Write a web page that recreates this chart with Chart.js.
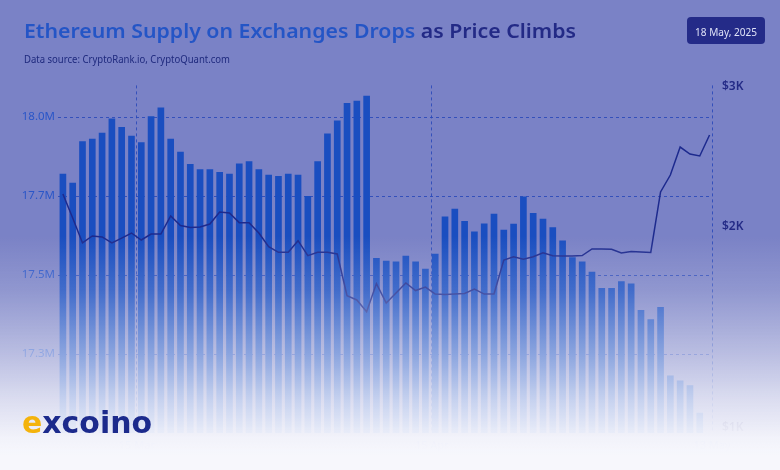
<!DOCTYPE html>
<html>
<head>
<meta charset="utf-8">
<script src="https://cdn.jsdelivr.net/npm/chart.js@4.4.1/dist/chart.umd.min.js"></script>
<style>
  html,body{margin:0;padding:0;}
  body{width:780px;height:470px;position:relative;overflow:hidden;background:#7a82c6;font-family:'Noto Sans',sans-serif;}
  #wrap{position:absolute;left:0;top:0;width:780px;height:470px;}
  #fade{position:absolute;left:0;top:0;width:780px;height:470px;pointer-events:none;
    background:linear-gradient(to bottom, rgba(247,247,252,0) 0px, rgba(247,247,252,0) 235px, rgba(247,247,252,0.18) 290px, rgba(247,247,252,0.5) 352px, rgba(247,247,252,0.78) 400px, rgba(247,247,252,0.96) 438px, rgba(247,247,252,1) 455px, rgba(247,247,252,1) 470px);}
  .fit{position:absolute;white-space:nowrap;transform-origin:0 0;}
  #title{left:24px;top:20.5px;font:600 20px/20px 'Noto Sans';}
  #title .b{color:#2455c6;} #title .n{color:#232a86;}
  #sub{left:24px;top:53px;font:400 11px/11px 'Noto Sans';color:#1f2a7e;}
  #badge{position:absolute;left:687px;top:17px;width:78px;height:27px;border-radius:4px;background:#242b88;}
  #badgeText{font:400 11px/11px 'Noto Sans';color:#dfe2f7;top:25.5px;left:695px;}
  #logo{position:absolute;left:22px;top:408px;font:700 30px/30px 'DejaVu Sans';white-space:nowrap;transform-origin:0 0;}
  #logo .e{color:#f4b30c;} #logo .r{color:#1c2a8c;}
</style>
</head>
<body>
<div id="wrap"><canvas id="c" width="780" height="470"></canvas></div>
<div id="fade"></div>
<div id="title" class="fit" data-w="552"><span class="b">Ethereum Supply on Exchanges Drops</span> <span class="n">as Price Climbs</span></div>
<div id="sub" class="fit" data-w="206">Data source: CryptoRank.io, CryptoQuant.com</div>
<div id="badge"></div>
<div id="badgeText" class="fit" data-w="62">18 May, 2025</div>
<div id="logo" data-w="130"><span class="e">e</span><span class="r">xcoino</span></div>
<script>
// ---- data ----
const supplyM = [17.819, 17.791, 17.922, 17.930, 17.949, 17.994, 17.967, 17.940, 17.919, 18.001,
  18.029, 17.930, 17.889, 17.850, 17.834, 17.834, 17.825, 17.819, 17.852, 17.859,
  17.834, 17.816, 17.812, 17.819, 17.816, 17.749, 17.859, 17.947, 17.988, 18.043,
  18.050, 18.066, 17.553, 17.544, 17.542, 17.560, 17.542, 17.519, 17.566, 17.684,
  17.709, 17.670, 17.637, 17.662, 17.693, 17.642, 17.661, 17.747, 17.695, 17.677,
  17.650, 17.608, 17.555, 17.542, 17.509, 17.458, 17.458, 17.479, 17.472, 17.388,
  17.359, 17.398, 17.181, 17.165, 17.150, 17.063];
const ethPrice = [2236, 2064, 1886, 1936, 1929, 1886, 1921, 1957, 1907, 1950,
  1950, 2079, 2011, 1996, 2000, 2021, 2107, 2100, 2031, 2031,
  1957, 1859, 1819, 1819, 1902, 1795, 1819, 1819, 1807, 1509,
  1479, 1395, 1596, 1457, 1529, 1600, 1546, 1571, 1521, 1518,
  1521, 1525, 1557, 1521, 1521, 1764, 1788, 1769, 1788, 1816,
  1795, 1793, 1793, 1796, 1843, 1843, 1841, 1814, 1825, 1821,
  1818, 2250, 2371, 2571, 2521, 2507, 2657];
const supplyTickValues = [18.0, 17.75, 17.5, 17.25];
const supplyTickLabels = ['18.0M', '17.7M', '17.5M', '17.3M'];
const priceTickValues = [3000, 2000, 570];
const priceTickLabels = ['$3K', '$2K', '$1K'];
const dateTickValues = [7.55, 37.65, 66.25];
const dateTickLabels = ['15 Mar', '15 Apr', '13 May'];

// fit text widths
document.querySelectorAll('[data-w]').forEach(el => {
  const w = el.getBoundingClientRect().width;
  const t = parseFloat(el.dataset.w);
  el.style.transform = 'scaleX(' + (t / w) + ')';
});

const gridColor = 'rgba(40,72,185,0.85)';
const setTicks = (vals) => (scale) => { scale.ticks = vals.map(v => ({ value: v })); };

new Chart(document.getElementById('c'), {
  data: {
    datasets: [
      {
        type: 'line',
        data: ethPrice.map((v, i) => ({ x: i, y: v })),
        yAxisID: 'yp',
        borderColor: '#1d2a8e',
        borderWidth: 1.5,
        pointRadius: 0,
        tension: 0,
        order: 0
      },
      {
        type: 'bar',
        data: supplyM.map((v, i) => ({ x: i, y: v })),
        yAxisID: 'ys',
        backgroundColor: '#1a4ec0',
        barThickness: 6,
        order: 1
      }
    ]
  },
  options: {
    responsive: false,
    animation: false,
    layout: { padding: { top: 85.4, bottom: 0, left: 0, right: 0 } },
    plugins: { legend: { display: false }, tooltip: { enabled: false } },
    scales: {
      x: {
        type: 'linear', min: -0.5, max: 66.25, offset: false,
        afterBuildTicks: setTicks(dateTickValues),
        afterFit: (s) => { s.height = 37; },
        grid: { color: gridColor, lineWidth: 1, drawTicks: false, offset: false },
        border: { display: false, dash: [3, 3] },
        ticks: { padding: 6, autoSkip: false, maxRotation: 0, color: '#2a56c8',
          font: { family: 'Noto Sans', size: 11 },
          callback: (v, i) => dateTickLabels[i] }
      },
      ys: {
        type: 'linear', position: 'left', min: 17.0, max: 18.1,
        afterBuildTicks: setTicks(supplyTickValues),
        afterFit: (s) => { s.width = 58; },
        grid: { color: gridColor, lineWidth: 1, drawTicks: false },
        border: { display: false, dash: [3, 3] },
        ticks: { padding: 3, color: '#2a56c8', font: { family: 'Noto Sans', size: 11.5 },
          callback: (v, i) => supplyTickLabels[i] }
      },
      yp: {
        type: 'linear', position: 'right', min: 529, max: 3011,
        afterBuildTicks: setTicks(priceTickValues),
        afterFit: (s) => { s.width = 68; },
        grid: { display: false, drawTicks: false },
        border: { display: false },
        ticks: { padding: 10, color: '#232a86', font: { family: 'Noto Sans', size: 12, weight: '600' },
          callback: (v, i) => priceTickLabels[i] }
      }
    }
  }
});
</script>
</body>
</html>
